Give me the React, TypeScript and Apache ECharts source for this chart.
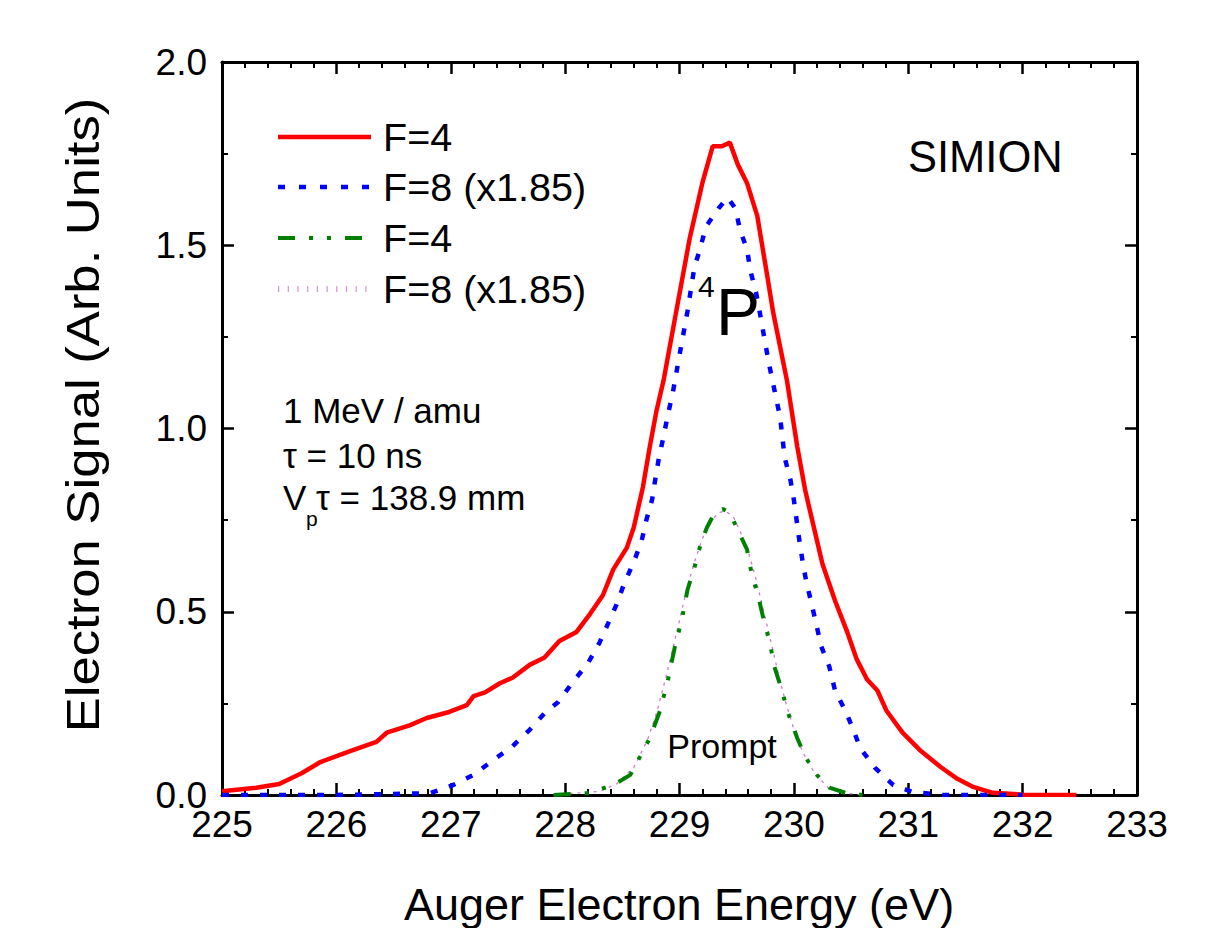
import React, { useEffect, useRef } from "react";
import * as echarts from "echarts";

const FONT = "'Liberation Sans', Arial, Helvetica, sans-serif";

// F=4 (solid red)
const redX = [225.0, 225.3, 225.5, 225.7, 225.86, 226.12, 226.35, 226.44, 226.64, 226.79, 226.97, 227.14, 227.2, 227.3, 227.43, 227.54, 227.69, 227.82, 227.95, 228.1, 228.22, 228.33, 228.42, 228.54, 228.6, 228.68, 228.74, 228.8, 228.86, 228.96, 229.09, 229.2, 229.29, 229.37, 229.44, 229.51, 229.59, 229.68, 229.76, 229.82, 229.94, 230.03, 230.1, 230.16, 230.25, 230.36, 230.46, 230.55, 230.64, 230.73, 230.81, 230.95, 231.1, 231.28, 231.42, 231.56, 231.74, 232.0, 232.47];
const redY = [0.01, 0.02, 0.03, 0.06, 0.09, 0.12, 0.145, 0.17, 0.19, 0.21, 0.225, 0.245, 0.27, 0.28, 0.305, 0.32, 0.355, 0.375, 0.42, 0.445, 0.495, 0.545, 0.615, 0.675, 0.73, 0.84, 0.95, 1.05, 1.13, 1.3, 1.52, 1.67, 1.77, 1.77, 1.78, 1.72, 1.67, 1.58, 1.43, 1.315, 1.13, 0.95, 0.83, 0.75, 0.63, 0.53, 0.45, 0.37, 0.315, 0.285, 0.23, 0.17, 0.123, 0.077, 0.046, 0.023, 0.006, 0.001, 0.0];

// F=8 (x1.85) (dotted blue)
const blueX = [225.0, 226.0, 226.82, 227.02, 227.2, 227.37, 227.53, 227.69, 227.82, 227.94, 228.06, 228.2, 228.3, 228.37, 228.45, 228.52, 228.6, 228.67, 228.71, 228.76, 228.79, 228.82, 228.86, 228.9, 228.94, 229.0, 229.07, 229.1, 229.13, 229.18, 229.23, 229.34, 229.42, 229.49, 229.53, 229.59, 229.62, 229.67, 229.7, 229.78, 229.88, 229.92, 229.97, 230.0, 230.05, 230.08, 230.11, 230.16, 230.2, 230.24, 230.31, 230.36, 230.45, 230.51, 230.58, 230.71, 230.87, 231.04, 231.3, 232.0];
const blueY = [0, 0, 0.005, 0.027, 0.055, 0.095, 0.13, 0.178, 0.223, 0.254, 0.305, 0.36, 0.415, 0.464, 0.52, 0.58, 0.635, 0.695, 0.75, 0.805, 0.865, 0.92, 0.977, 1.04, 1.095, 1.2, 1.32, 1.38, 1.44, 1.49, 1.55, 1.6, 1.63, 1.6, 1.54, 1.49, 1.43, 1.37, 1.32, 1.18, 1.03, 0.92, 0.86, 0.805, 0.69, 0.63, 0.58, 0.515, 0.46, 0.405, 0.35, 0.285, 0.23, 0.186, 0.128, 0.074, 0.027, 0.008, 0.0, 0.0];

// Prompt F=4 (green dash-dot-dot)
const greenX = [227.9, 228.2, 228.42, 228.57, 228.74, 228.83, 228.9, 228.96, 229.02, 229.07, 229.13, 229.19, 229.24, 229.31, 229.38, 229.44, 229.51, 229.59, 229.63, 229.69, 229.73, 229.79, 229.83, 229.9, 229.95, 230.03, 230.1, 230.2, 230.31, 230.46, 230.6];
const greenY = [0, 0.005, 0.027, 0.055, 0.155, 0.23, 0.315, 0.405, 0.478, 0.56, 0.62, 0.69, 0.73, 0.772, 0.78, 0.77, 0.723, 0.67, 0.605, 0.54, 0.486, 0.415, 0.35, 0.28, 0.223, 0.155, 0.104, 0.055, 0.02, 0.005, 0];

// Prompt F=8 (x1.85) (thin violet dots)
const pinkX = [227.9, 228.3, 228.45, 228.6, 228.72, 228.8, 228.88, 228.95, 229.01, 229.07, 229.13, 229.2, 229.27, 229.34, 229.4, 229.47, 229.53, 229.6, 229.66, 229.71, 229.76, 229.82, 229.88, 229.94, 230.01, 230.08, 230.18, 230.3, 230.45, 230.6];
const pinkY = [0, 0.01, 0.03, 0.075, 0.15, 0.225, 0.32, 0.41, 0.49, 0.57, 0.635, 0.7, 0.745, 0.77, 0.775, 0.76, 0.72, 0.665, 0.6, 0.535, 0.47, 0.39, 0.31, 0.24, 0.17, 0.115, 0.06, 0.02, 0.005, 0];

const legendNames = ["F=4", "F=8 (x1.85)", "F=4", "F=8 (x1.85)"];
const legendColors = ["#ff0000", "#0000ff", "#008000", "#c77dc7"];
const legendWidths = [4.5, 4.5, 4, 1.2];
const legendDashes: (number[] | null)[] = [null, [7, 14], [17, 14, 4, 14, 4, 14], [2, 7]];

const zip = (xs: number[], ys: number[]) => xs.map((x, i) => [x, ys[i]]);

export default function App() {
  const ref = useRef<HTMLDivElement>(null);
  useEffect(() => {
    if (!ref.current) return;
    const chart = echarts.init(ref.current, undefined, { renderer: "svg" });

    const axisCommon = {
      axisLine: { show: true, onZero: false, lineStyle: { color: "#000", width: 3 } },
      axisTick: { show: true, inside: true, length: 12, lineStyle: { color: "#000", width: 2.5 } },
      splitLine: { show: false },
    };

    const legendRowsY = [137, 187, 238, 289];
    const legendGraphics: any[] = [];
    legendRowsY.forEach((y, i) => {
      legendGraphics.push({
        type: "line",
        shape: { x1: 278, y1: y, x2: 371, y2: y },
        style: {
          stroke: legendColors[i],
          lineWidth: i === 3 ? 6 : legendWidths[i],
          lineDash: i === 3 ? [1.2, 8.5] : legendDashes[i] || undefined,
          opacity: i === 3 ? 0.8 : 1,
        },
        silent: true,
      });
      legendGraphics.push({
        type: "text",
        x: 383,
        y,
        style: { text: legendNames[i], fontSize: 39.5, fontFamily: FONT, fill: "#000", align: "left", verticalAlign: "middle" },
        silent: true,
      });
    });

    const textStyle = (text: string, fontSize: number, extra: any = {}) => ({
      text,
      fontSize,
      fontFamily: FONT,
      fill: "#000",
      align: "left",
      verticalAlign: "middle",
      ...extra,
    });

    chart.setOption({
      animation: false,
      backgroundColor: "#fff",
      grid: { left: 222, right: 84, top: 62, bottom: 133, containLabel: false },
      xAxis: [
        {
          type: "value",
          min: 225,
          max: 233,
          interval: 1,
          position: "bottom",
          ...axisCommon,
          minorTick: { show: true, splitNumber: 5, length: 6, lineStyle: { color: "#000", width: 2 } },
          axisLabel: { fontSize: 37, color: "#000", fontFamily: FONT, margin: 11 },
        },
        {
          type: "value",
          min: 225,
          max: 233,
          interval: 1,
          position: "top",
          ...axisCommon,
          minorTick: { show: true, splitNumber: 5, length: 6, lineStyle: { color: "#000", width: 2 } },
          axisLabel: { show: false },
        },
      ],
      yAxis: [
        {
          type: "value",
          min: 0,
          max: 2,
          interval: 0.5,
          position: "left",
          ...axisCommon,
          minorTick: { show: true, splitNumber: 2, length: 6, lineStyle: { color: "#000", width: 2 } },
          axisLabel: { fontSize: 37, color: "#000", fontFamily: FONT, margin: 15, formatter: (v: number) => v.toFixed(1) },
        },
        {
          type: "value",
          min: 0,
          max: 2,
          interval: 0.5,
          position: "right",
          ...axisCommon,
          minorTick: { show: true, splitNumber: 2, length: 6, lineStyle: { color: "#000", width: 2 } },
          axisLabel: { show: false },
        },
      ],
      series: [
        {
          name: "F=4",
          type: "line",
          data: zip(redX, redY),
          showSymbol: false,
          symbol: "none",
          lineStyle: { color: "#ff0000", width: 4.5, type: "solid" },
          z: 3,
        },
        {
          name: "F=8 (x1.85)",
          type: "line",
          data: zip(blueX, blueY),
          showSymbol: false,
          symbol: "none",
          lineStyle: { color: "#0000ff", width: 4.5, type: [7, 12], cap: "butt" },
          z: 4,
        },
        {
          name: "F=8 (x1.85) prompt",
          type: "line",
          data: zip(pinkX, pinkY),
          showSymbol: false,
          symbol: "none",
          lineStyle: { color: "#c77dc7", width: 1.3, type: [3, 5] },
          z: 5,
        },
        {
          name: "F=4 prompt",
          type: "line",
          data: zip(greenX, greenY),
          showSymbol: false,
          symbol: "none",
          lineStyle: { color: "#008000", width: 4, type: [17, 14, 4, 14, 4, 14], cap: "butt" },
          z: 6,
        },
      ],
      graphic: [
        ...legendGraphics,
        {
          type: "text",
          x: 679,
          y: 904,
          style: textStyle("Auger Electron Energy (eV)", 45, { align: "center" }),
          silent: true,
        },
        {
          type: "text",
          x: 83,
          y: 415,
          rotation: Math.PI / 2,
          scaleX: 1.12,
          style: textStyle("Electron Signal (Arb. Units)", 47, { align: "center" }),
          silent: true,
        },
        { type: "text", x: 908, y: 157, style: textStyle("SIMION", 43.5), silent: true },
        { type: "text", x: 698, y: 286, style: textStyle("4", 30), silent: true },
        { type: "text", x: 716, y: 312, style: textStyle("P", 66), silent: true },
        { type: "text", x: 283, y: 410, style: textStyle("1 MeV / amu", 35), silent: true },
        { type: "text", x: 283, y: 455, style: textStyle("τ = 10 ns", 35), silent: true },
        { type: "text", x: 283, y: 497, style: textStyle("V", 35), silent: true },
        { type: "text", x: 306, y: 518, style: textStyle("p", 21), silent: true },
        { type: "text", x: 316, y: 497, style: textStyle("τ = 138.9 mm", 35), silent: true },
        { type: "text", x: 722, y: 746, style: textStyle("Prompt", 34, { align: "center" }), silent: true },
      ],
    });

    return () => chart.dispose();
  }, []);

  return (
    <div
      ref={ref}
      style={{ position: "fixed", left: 0, top: 0, width: 1221, height: 928, background: "#fff" }}
    />
  );
}
